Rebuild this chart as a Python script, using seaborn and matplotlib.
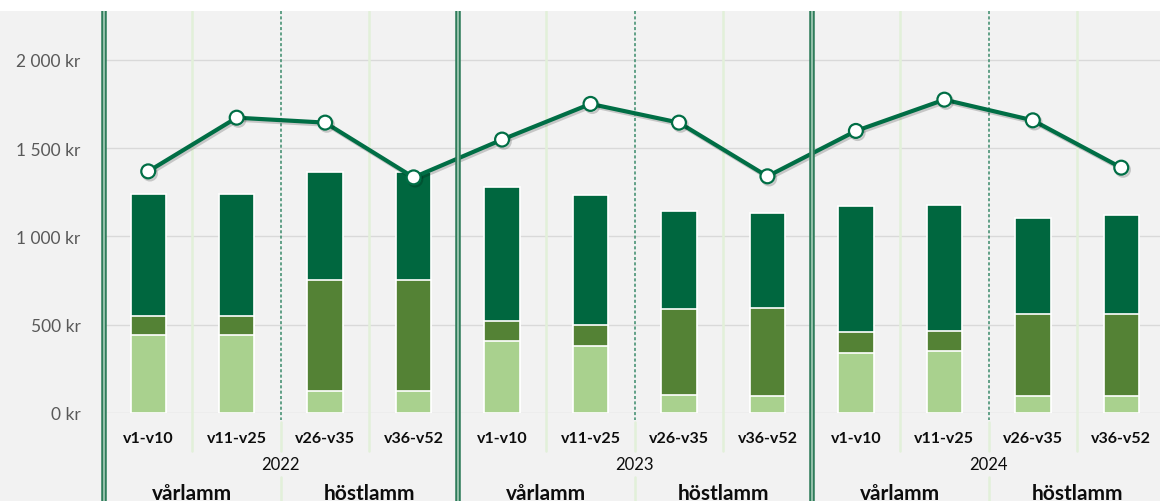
import pandas as pd
import matplotlib.pyplot as plt
import matplotlib.patheffects as pe
from matplotlib.patches import Rectangle
from matplotlib.transforms import blended_transform_factory
import seaborn as sns

# Data
years = ["2022", "2023", "2024"]
seasons = ["vårlamm", "höstlamm"]
weeks = ["v1-v10", "v11-v25", "v26-v35", "v36-v52"]

light_part = [440, 440, 126, 126, 410, 380, 102, 94, 342, 349, 94, 94]
mid_part = [109, 109, 625, 625, 109, 116, 487, 502, 115, 117, 465, 465]
dark_part = [693, 693, 615, 615, 761, 737, 553, 537, 717, 714, 545, 560]
line_values = [1368, 1672, 1644, 1334, 1548, 1750, 1644, 1340, 1597, 1774, 1657, 1389]

# Colours
c_dark = "#00673f"
c_mid = "#548235"
c_light = "#a9d18e"
c_line = "#006e45"
c_bg = "#f2f2f2"
c_grid = "#d9d9d9"
c_sep = "#e2f0d9"
c_year = "#2f7d5b"

sns.set_style("white")
plt.rcParams["font.family"] = ["Lato", "DejaVu Sans"]

# Build the table
keys = [f"{y} {w}" for y in years for w in weeks]
df = pd.DataFrame({
    "key": keys,
    "light": light_part,
    "mid": mid_part,
    "dark": dark_part,
    "line": line_values,
})
df["pos"] = range(len(df))
df["lvl1"] = df["light"]
df["lvl2"] = df["light"] + df["mid"]
df["lvl3"] = df["light"] + df["mid"] + df["dark"]

W, H = 1160, 502
fig = plt.figure(figsize=(W / 100, H / 100), dpi=100, facecolor=c_bg)
ax = fig.add_axes([104 / W, 88 / H, (1165.5 - 104) / W, (490 - 88) / H])
ax.set_facecolor(c_bg)

# Stacked bars as overlapping cumulative layers
for col, color in [("lvl3", c_dark), ("lvl2", c_mid), ("lvl1", c_light)]:
    sns.barplot(data=df, x="key", y=col, order=keys, color=color, width=0.4,
                saturation=1, edgecolor="white", linewidth=1.2, ax=ax, zorder=3)

# Line with markers (soft shadow)
sns.lineplot(data=df, x="pos", y="line", color=c_line, linewidth=3,
             marker="o", markersize=10, markerfacecolor="white",
             markeredgecolor=c_line, markeredgewidth=1.6, ax=ax, zorder=5,
             path_effects=[pe.SimpleLineShadow(offset=(1.2, -1.5), alpha=0.18),
                           pe.Normal()])

ax.set_xlim(-0.5, 11.5)
ax.set_ylim(0, 2276)
ax.set_yticks([0, 500, 1000, 1500, 2000])
ax.set_yticklabels([f"{v:,.0f}".replace(",", " ") + " kr" for v in [0, 500, 1000, 1500, 2000]],
                   color="#595959", fontsize=12.5)
ax.tick_params(axis="y", length=0, pad=17)
ax.set_xticks([])
ax.set_xlabel("")
ax.set_ylabel("")
ax.yaxis.grid(True, color=c_grid, linewidth=1)
ax.set_axisbelow(True)
for s in ax.spines.values():
    s.set_visible(False)

# Separators and labels (x in data units, y in figure pixels)
tr = blended_transform_factory(ax.transData, fig.transFigure)


def fy(px):
    return (H - px) / H


n = len(keys)
for i in range(n - 1):
    x = i + 0.5
    if (i + 1) % 4 == 0:
        continue
    if (i + 1) % 2 == 1:
        # light separator between categories
        ax.plot([x, x], [fy(12), fy(452)], transform=tr, color=c_sep, lw=1.8,
                clip_on=False, zorder=1)
    else:
        # season divider
        ax.plot([x, x], [fy(12), fy(421)], transform=tr, color="#3a8a6a", lw=1.1,
                ls=(0, (2, 1.5)), clip_on=False, zorder=2)
        ax.plot([x, x], [fy(423), fy(452)], transform=tr, color=c_sep, lw=1.8,
                clip_on=False, zorder=1)
        ax.plot([x, x], [fy(478), fy(502)], transform=tr, color=c_sep, lw=1.8,
                clip_on=False, zorder=1)

# Year dividers (double line)
for x in [-0.5, 3.5, 7.5]:
    ax.plot([x, x], [fy(12), fy(502)], transform=tr, color=c_year, lw=4,
            clip_on=False, zorder=6, solid_capstyle="butt")
    ax.plot([x, x], [fy(12), fy(502)], transform=tr, color="#a8cdb9", lw=1.2,
            clip_on=False, zorder=7, solid_capstyle="butt")

# Week labels
for i, k in enumerate(keys):
    ax.text(i, fy(443.5), weeks[i % 4], transform=tr, ha="center", va="baseline",
            fontsize=11.5, fontweight="bold", color="#0d0d0d")

# Year labels
for j, y in enumerate(years):
    ax.text(j * 4 + 1.5, fy(470.5), y, transform=tr, ha="center", va="baseline",
            fontsize=12, color="#0d0d0d")

# Season labels
for j in range(len(years)):
    for s_i, s in enumerate(seasons):
        ax.text(j * 4 + s_i * 2 + 0.5, fy(500), s, transform=tr, ha="center",
                va="baseline", fontsize=15, fontweight="bold", color="#0d0d0d")

# White strip at the top
fig.patches.append(Rectangle((0, fy(12)), 1, 12 / H, transform=fig.transFigure,
                             facecolor="white", edgecolor="none", zorder=10))

fig.savefig("out.png", dpi=100, facecolor=c_bg)
